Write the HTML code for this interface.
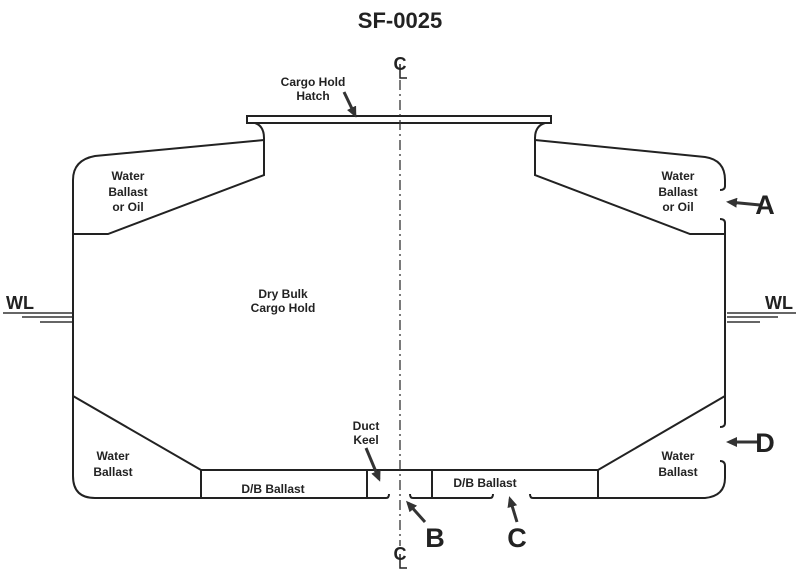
<!DOCTYPE html>
<html><head><style>body{margin:0;background:#fff}svg{display:block}text{font-family:"Liberation Sans",sans-serif;font-weight:bold;fill:#222}</style></head><body>
<svg width="800" height="575" viewBox="0 0 800 575" xmlns="http://www.w3.org/2000/svg">
<defs><marker id="ah" markerWidth="11" markerHeight="10" refX="8" refY="5" orient="auto" markerUnits="userSpaceOnUse"><path d="M0,0 L11,5 L0,10 z" fill="#333"/></marker></defs>
<text x="400" y="28" font-size="22" text-anchor="middle">SF-0025</text>
<g fill="none" stroke="#222" stroke-width="2">
<rect x="247" y="116" width="304" height="7"/>
<path d="M255,123 Q264,126 264,138 L264,175 L108,234 L73,234"/>
<path d="M545,123 Q535,126 535,138 L535,175 L690,234 L725,234"/>
<path d="M264,140 L95,156 Q73,160 73,180 L73,476 Q73,498 95,498 L367,498"/>
<path d="M73,396 L201,470 L598,470 L725,396"/>
<path d="M201,470 L201,498 M367,470 L367,498 L386,498 Q389,498 389,494"/>
<path d="M410,494 Q410,498 413,498 L432,498 L490,498 Q493,498 493,494 M432,470 L432,498"/>
<path d="M530,494 Q530,498 533,498 L705,498 Q725,496 725,478 L725,466 Q725,461 720,461"/>
<path d="M598,470 L598,498"/>
<path d="M535,140 L705,157 Q725,160 725,180 L725,186 Q725,190 720,190"/>
<path d="M720,219 Q725,219 725,223 L725,423 Q725,427 720,427"/>
</g>
<g stroke="#333" stroke-width="1.5">
<line x1="3" y1="313" x2="72" y2="313"/><line x1="22" y1="317" x2="72" y2="317"/><line x1="40" y1="322" x2="72" y2="322"/>
<line x1="727" y1="313" x2="796" y2="313"/><line x1="727" y1="317" x2="778" y2="317"/><line x1="727" y1="322" x2="760" y2="322"/>
</g>
<line x1="400" y1="80" x2="400" y2="546" stroke="#333" stroke-width="1.3" stroke-dasharray="10,4,2,4"/>
<text x="400" y="70" font-size="18" font-weight="normal" text-anchor="middle">C</text>
<path d="M400,64 L400,78 L407,78" stroke="#222" fill="none" stroke-width="1.5"/>
<text x="400" y="560" font-size="18" font-weight="normal" text-anchor="middle">C</text>
<path d="M400,554 L400,568 L407,568" stroke="#222" fill="none" stroke-width="1.5"/>
<g stroke="#333" stroke-width="3" marker-end="url(#ah)">
<line x1="344" y1="92" x2="355" y2="115"/>
<line x1="366" y1="448" x2="379" y2="479"/>
<line x1="760" y1="205" x2="729" y2="202"/>
<line x1="760" y1="442" x2="729" y2="442"/>
<line x1="425" y1="522" x2="408" y2="503"/>
<line x1="517" y1="522" x2="510" y2="499"/>
</g>
<g font-size="12" text-anchor="middle">
<text x="313" y="86">Cargo Hold</text><text x="313" y="100">Hatch</text>
<text x="128" y="180">Water</text><text x="128" y="196">Ballast</text><text x="128" y="211">or Oil</text>
<text x="678" y="180">Water</text><text x="678" y="196">Ballast</text><text x="678" y="211">or Oil</text>
<text x="283" y="298">Dry Bulk</text><text x="283" y="312">Cargo Hold</text>
<text x="113" y="460">Water</text><text x="113" y="476">Ballast</text>
<text x="678" y="460">Water</text><text x="678" y="476">Ballast</text>
<text x="366" y="430">Duct</text><text x="366" y="444">Keel</text>
<text x="273" y="493">D/B Ballast</text>
<text x="485" y="487">D/B Ballast</text>
</g>
<text x="20" y="309" font-size="18" text-anchor="middle">WL</text>
<text x="779" y="309" font-size="18" text-anchor="middle">WL</text>
<g font-size="27" text-anchor="middle">
<text x="765" y="214">A</text><text x="765" y="452">D</text>
<text x="435" y="547">B</text><text x="517" y="547">C</text>
</g>
</svg>
</body></html>
